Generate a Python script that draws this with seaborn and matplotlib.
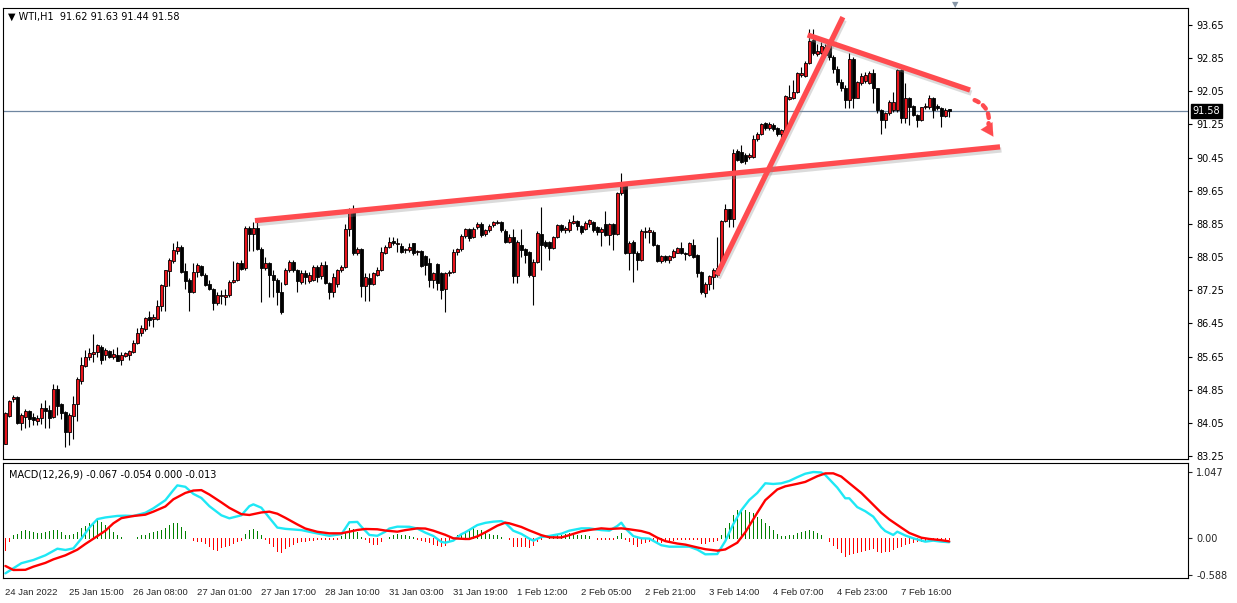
import numpy as np
import pandas as pd
import matplotlib
matplotlib.use('Agg')
import matplotlib.pyplot as plt
import matplotlib.patheffects as pe
import seaborn as sns

# ── WTI H1 candles ─────────────────────────────────────────────────
opens = [
    83.55, 84.21, 84.62, 84.67, 84.05, 84.20, 84.33, 84.20, 84.10, 84.17,
    84.42, 84.36, 84.20, 84.88, 84.50, 84.31, 83.84, 84.22, 84.50, 85.07,
    85.43, 85.63, 85.71, 85.75, 85.87, 85.69, 85.78, 85.65, 85.70, 85.56,
    85.66, 85.70, 85.77, 85.99, 86.22, 86.32, 86.60, 86.55, 86.55, 86.88,
    87.36, 87.72, 87.96, 88.20, 88.30, 87.72, 87.50, 87.20, 87.68, 87.83,
    87.62, 87.40, 87.28, 86.95, 87.11, 87.09, 87.13, 87.44, 87.51, 87.91,
    87.78, 88.76, 88.62, 88.76, 88.24, 87.79, 87.91, 87.62, 87.51, 87.20,
    87.40, 87.75, 87.93, 87.74, 87.46, 87.67, 87.48, 87.51, 87.82, 87.59,
    87.86, 87.42, 87.20, 87.40, 87.74, 87.80, 88.72, 89.19, 88.16, 88.24,
    87.35, 87.54, 87.40, 87.62, 87.74, 88.16, 88.30, 88.45, 88.36, 88.32,
    88.22, 88.22, 88.38, 88.18, 88.20, 88.08, 87.90, 87.51, 87.88, 87.66,
    87.27, 87.66, 87.70, 88.18, 88.24, 88.56, 88.72, 88.54, 88.77, 88.86,
    88.60, 88.70, 88.82, 88.87, 88.89, 88.68, 88.42, 88.54, 87.59, 88.34,
    88.24, 88.18, 87.59, 87.94, 88.62, 88.42, 88.42, 88.28, 88.54, 88.82,
    88.70, 88.70, 88.88, 88.93, 88.80, 88.74, 88.86, 88.90, 88.78, 88.66,
    88.86, 88.58, 88.85, 88.61, 89.60, 89.81, 88.14, 88.42, 88.16, 87.99,
    88.66, 88.66, 88.66, 88.34, 87.96, 88.08, 87.98, 88.06, 88.16, 88.28,
    88.16, 88.10, 88.34, 88.10, 87.70, 87.19, 87.41, 87.58, 87.62, 87.94,
    88.93, 89.20, 88.98, 90.62, 90.59, 90.51, 90.47, 90.47, 90.89, 91.03,
    91.29, 91.16, 91.24, 91.16, 91.02, 91.12, 91.86, 91.88, 92.04, 92.44,
    92.42, 92.74, 93.28, 92.96, 92.98, 93.12, 93.20, 92.88, 92.60, 92.28,
    92.12, 91.84, 92.84, 91.90, 92.24, 92.30, 92.26, 92.50, 92.12, 91.60,
    91.36, 91.52, 91.60, 91.60, 92.56, 91.40, 91.88, 91.70, 91.48, 91.37,
    91.66, 91.66, 91.90, 91.70, 91.64, 91.45, 91.62]
highs = [
    84.31, 84.60, 84.72, 84.70, 84.30, 84.38, 84.36, 84.30, 84.24, 84.52,
    84.60, 84.48, 85.00, 84.96, 84.52, 84.34, 84.28, 84.70, 85.15, 85.63,
    85.82, 85.85, 86.19, 85.95, 85.93, 85.85, 85.80, 85.84, 85.89, 85.76,
    85.77, 85.82, 86.05, 86.35, 86.41, 86.61, 86.76, 86.69, 87.01, 87.39,
    87.75, 88.04, 88.40, 88.44, 88.34, 87.90, 87.54, 87.90, 87.92, 87.86,
    87.66, 87.50, 87.30, 87.21, 87.25, 87.28, 87.50, 87.96, 87.94, 87.98,
    88.80, 88.80, 88.90, 88.96, 88.30, 88.06, 87.94, 87.74, 87.54, 87.46,
    87.78, 87.97, 87.98, 87.76, 87.74, 87.74, 87.68, 87.86, 87.85, 87.94,
    87.96, 87.45, 87.67, 87.77, 87.85, 88.86, 89.23, 89.30, 88.30, 88.26,
    87.67, 87.67, 87.70, 87.80, 88.30, 88.34, 88.54, 88.54, 88.50, 88.40,
    88.28, 88.38, 88.40, 88.22, 88.22, 88.10, 88.02, 87.70, 87.92, 87.70,
    87.70, 87.75, 88.24, 88.28, 88.60, 88.76, 88.76, 88.78, 88.90, 88.90,
    88.74, 88.84, 88.92, 88.95, 88.92, 88.72, 88.60, 88.72, 88.46, 88.74,
    88.28, 88.20, 88.00, 88.68, 89.27, 88.46, 88.44, 88.56, 88.85, 88.86,
    88.80, 88.96, 89.06, 88.95, 88.82, 88.92, 88.98, 88.92, 88.80, 88.78,
    89.17, 88.88, 88.88, 89.62, 90.09, 89.84, 88.44, 88.46, 88.20, 88.72,
    88.78, 88.78, 88.70, 88.36, 88.10, 88.10, 88.10, 88.24, 88.30, 88.42,
    88.18, 88.42, 88.48, 88.12, 87.72, 87.44, 87.62, 87.78, 88.53, 88.95,
    89.33, 89.22, 90.67, 90.66, 90.75, 90.55, 90.56, 90.99, 91.06, 91.28,
    91.32, 91.30, 91.28, 91.18, 91.14, 91.96, 92.20, 92.32, 92.52, 92.64,
    92.78, 93.55, 93.55, 93.20, 93.24, 93.20, 93.30, 92.92, 92.66, 92.34,
    92.20, 92.97, 92.88, 92.30, 92.48, 92.52, 92.55, 92.60, 92.14, 91.62,
    91.55, 91.84, 92.04, 92.60, 92.60, 92.24, 91.92, 91.72, 91.50, 91.68,
    91.76, 91.96, 91.92, 91.74, 91.66, 91.64, 91.63]
lows = [
    83.53, 84.19, 84.56, 84.02, 83.89, 83.92, 83.96, 83.99, 84.00, 84.02,
    83.92, 83.92, 84.16, 84.24, 84.14, 83.46, 83.52, 83.66, 84.10, 85.00,
    85.40, 85.58, 85.53, 85.64, 85.47, 85.58, 85.61, 85.60, 85.54, 85.44,
    85.64, 85.56, 85.74, 85.95, 86.14, 86.27, 86.39, 86.37, 86.53, 86.76,
    86.76, 87.35, 87.90, 88.12, 87.66, 87.28, 86.76, 87.18, 87.58, 87.59,
    87.35, 87.25, 86.77, 86.89, 86.93, 86.89, 87.09, 87.42, 87.48, 87.74,
    87.74, 88.20, 88.20, 88.22, 86.97, 87.74, 87.08, 87.08, 86.90, 86.68,
    87.38, 87.70, 87.70, 87.21, 87.40, 87.40, 87.43, 87.48, 87.45, 87.53,
    87.40, 87.05, 87.09, 87.33, 87.70, 87.78, 88.55, 88.10, 88.10, 87.09,
    87.00, 86.99, 87.38, 87.60, 87.72, 88.12, 88.26, 88.34, 88.18, 88.14,
    88.16, 88.18, 88.10, 88.10, 87.80, 87.62, 87.33, 87.30, 87.26, 87.05,
    86.73, 87.60, 87.66, 88.10, 88.20, 88.52, 88.44, 88.50, 88.74, 88.54,
    88.56, 88.66, 88.78, 88.84, 88.66, 88.38, 88.38, 87.42, 87.42, 88.06,
    87.90, 87.58, 86.89, 87.90, 87.74, 88.28, 87.98, 88.24, 88.50, 88.66,
    88.64, 88.66, 88.84, 88.70, 88.62, 88.70, 88.78, 88.66, 88.58, 88.32,
    88.56, 88.34, 88.22, 88.58, 89.56, 88.12, 87.74, 87.46, 87.74, 87.96,
    88.50, 88.40, 88.31, 87.94, 87.92, 87.94, 87.91, 88.04, 88.14, 88.12,
    87.98, 88.08, 88.04, 87.56, 87.17, 87.08, 87.25, 87.29, 87.58, 87.90,
    88.90, 88.78, 88.78, 90.36, 90.31, 90.30, 90.42, 90.44, 90.86, 91.00,
    91.12, 91.12, 91.10, 90.98, 90.90, 90.99, 91.84, 91.86, 92.00, 92.40,
    92.40, 92.70, 92.92, 92.90, 92.94, 92.88, 92.80, 92.50, 92.20, 92.06,
    91.64, 91.64, 91.64, 91.88, 92.20, 92.24, 92.22, 91.76, 91.52, 91.03,
    91.16, 91.48, 91.56, 91.56, 91.28, 91.28, 91.24, 91.46, 91.18, 91.34,
    91.62, 91.62, 91.40, 91.60, 91.18, 91.42, 91.44]
closes = [
    84.29, 84.57, 84.67, 84.05, 84.24, 84.33, 84.14, 84.12, 84.18, 84.42,
    84.34, 84.18, 84.86, 84.46, 84.29, 83.82, 84.24, 84.50, 85.10, 85.44,
    85.63, 85.73, 85.77, 85.92, 85.58, 85.80, 85.65, 85.71, 85.55, 85.68,
    85.73, 85.78, 85.99, 86.23, 86.34, 86.59, 86.53, 86.60, 86.87, 87.38,
    87.74, 87.98, 88.22, 88.30, 87.70, 87.47, 87.21, 87.68, 87.86, 87.62,
    87.38, 87.28, 86.95, 87.13, 87.13, 87.13, 87.44, 87.51, 87.91, 87.76,
    88.76, 88.62, 88.76, 88.24, 87.79, 87.91, 87.62, 87.51, 87.20, 86.72,
    87.73, 87.93, 87.74, 87.48, 87.67, 87.56, 87.62, 87.82, 87.58, 87.86,
    87.42, 87.20, 87.56, 87.73, 87.80, 88.72, 89.19, 88.16, 88.24, 87.35,
    87.56, 87.40, 87.67, 87.74, 88.18, 88.30, 88.42, 88.40, 88.40, 88.18,
    88.22, 88.30, 88.14, 88.19, 87.83, 87.86, 87.51, 87.66, 87.42, 87.26,
    87.66, 87.70, 88.18, 88.24, 88.56, 88.72, 88.50, 88.72, 88.86, 88.58,
    88.70, 88.80, 88.89, 88.90, 88.70, 88.42, 88.54, 87.59, 88.42, 88.22,
    88.10, 87.62, 87.94, 88.64, 88.34, 88.32, 88.28, 88.54, 88.82, 88.70,
    88.76, 88.90, 88.93, 88.80, 88.66, 88.88, 88.94, 88.70, 88.66, 88.74,
    88.58, 88.85, 88.61, 89.60, 89.81, 88.14, 88.40, 88.14, 87.99, 88.69,
    88.69, 88.70, 88.34, 87.96, 88.08, 87.98, 88.08, 88.20, 88.26, 88.14,
    88.13, 88.40, 88.06, 87.67, 87.21, 87.41, 87.59, 87.75, 87.78, 88.93,
    89.20, 88.98, 90.57, 90.40, 90.35, 90.37, 90.51, 90.91, 91.03, 91.26,
    91.16, 91.26, 91.13, 91.03, 91.12, 91.94, 91.92, 92.04, 92.48, 92.50,
    92.74, 93.27, 92.98, 93.03, 93.14, 92.92, 92.88, 92.60, 92.28, 92.12,
    91.84, 92.82, 91.88, 92.28, 92.42, 92.44, 92.48, 92.12, 91.60, 91.36,
    91.52, 91.80, 91.80, 92.56, 91.40, 91.88, 91.68, 91.48, 91.37, 91.66,
    91.70, 91.88, 91.60, 91.64, 91.45, 91.61, 91.58]

# ── MACD(12,26,9) ──────────────────────────────────────────────────
macd_bar = [0, 4, 7, 10, 13, 15, 17, 19, 21, 23, 25, 28, 30, 32, 35, 37, 40, 42, 43, 45,
            47, 49, 51, 54, 56, 59, 61, 62, 64, 66, 68, 70, 74, 77, 81, 84, 85, 86, 88, 89,
            91, 93, 95, 96, 98, 101, 103, 105, 107, 109, 110, 112, 114, 115, 118, 120, 122, 124, 125, 127,
            129, 131, 132, 134, 136, 139, 141, 144, 146, 149, 151, 153, 154, 155, 157, 159, 161, 164, 166, 169,
            171, 173, 175, 178, 180, 182, 184, 186, 188, 190, 192, 194, 196, 198, 200, 202, 204, 205, 208, 210,
            211, 213, 215, 217, 219, 220, 222, 223, 225, 227, 230, 232, 234, 236]
macd_val = [-0.561, -0.40, -0.349, -0.275, -0.170, -0.190, -0.165, -0.010, 0.165, 0.300,
            0.326, 0.350, 0.354, 0.349, 0.40, 0.471, 0.60, 0.76, 0.835, 0.812,
            0.70, 0.635, 0.505, 0.36, 0.312, 0.36, 0.505, 0.534, 0.48, 0.32,
            0.165, 0.145, 0.125, 0.085, 0.035, 0.06, 0.153, 0.249, 0.255, 0.180,
            0.048, 0.035, 0.10, 0.150, 0.180, 0.178, 0.150, 0.085, 0.032, -0.062,
            -0.074, -0.042, 0.060, 0.090, 0.205, 0.240, 0.259, 0.268, 0.240, 0.115,
            0.065, -0.01, -0.042, 0.015, 0.032, 0.068, 0.116, 0.153, 0.153, 0.125,
            0.116, 0.190, 0.243, 0.153, 0.030, -0.005, -0.010, -0.115, -0.138, -0.138,
            -0.138, -0.185, -0.259, -0.255, -0.05, 0.22, 0.44, 0.603, 0.715, 0.868,
            0.857, 0.868, 0.905, 0.965, 1.020, 1.047, 1.040, 1.000, 0.800, 0.630,
            0.630, 0.490, 0.425, 0.339, 0.170, 0.110, 0.048, 0.100, 0.040, -0.005,
            -0.058, -0.042, -0.058, -0.067]
signal_bar = [0, 2, 5, 7, 10, 12, 15, 18, 20, 23, 25, 27, 29, 32, 35, 37, 40, 42, 45, 47,
              49, 51, 54, 56, 59, 61, 64, 66, 68, 70, 73, 75, 78, 81, 84, 86, 88, 90, 93, 95,
              98, 100, 103, 105, 107, 110, 112, 115, 116, 118, 120, 123, 125, 126, 129, 131, 134, 136, 139, 141,
              144, 146, 149, 151, 154, 156, 159, 161, 163, 165, 168, 170, 173, 175, 178, 180, 183, 185, 188, 190,
              193, 195, 198, 200, 203, 205, 207, 209, 211, 214, 216, 219, 221, 224, 226, 229, 231, 234, 236]
signal_val = [-0.444, -0.508, -0.505, -0.455, -0.395, -0.339, -0.275, -0.185, -0.095, 0.030,
              0.115, 0.233, 0.315, 0.349, 0.370, 0.418, 0.50, 0.614, 0.715, 0.753,
              0.760, 0.690, 0.565, 0.478, 0.378, 0.365, 0.405, 0.418, 0.385, 0.320,
              0.215, 0.150, 0.098, 0.074, 0.074, 0.100, 0.127, 0.143, 0.138, 0.118,
              0.100, 0.125, 0.153, 0.150, 0.116, 0.050, -0.005, -0.016, -0.016, 0.025,
              0.090, 0.195, 0.243, 0.233, 0.175, 0.120, 0.045, 0.011, 0.008, 0.045,
              0.105, 0.127, 0.153, 0.143, 0.153, 0.138, 0.110, 0.075, 0.005, -0.050,
              -0.088, -0.105, -0.150, -0.178, -0.201, -0.182, -0.075, 0.090, 0.400, 0.600,
              0.770, 0.820, 0.860, 0.890, 0.980, 1.025, 1.026, 0.975, 0.870, 0.715,
              0.590, 0.400, 0.295, 0.165, 0.080, 0.005, -0.015, -0.035, -0.054]
hist = [
    -0.19, -0.04, 0.04, 0.07, 0.11, 0.12, 0.11, 0.09, 0.08, 0.08,
    0.09, 0.11, 0.12, 0.12, 0.09, 0.05, 0.04, 0.07, 0.09, 0.16,
    0.19, 0.23, 0.26, 0.28, 0.25, 0.20, 0.16, 0.09, 0.05, 0.02,
    0.005, 0.0, 0.0, 0.02, 0.04, 0.05, 0.08, 0.09, 0.11, 0.13,
    0.16, 0.20, 0.23, 0.24, 0.17, 0.11, 0.0, -0.03, -0.04, -0.05,
    -0.08, -0.12, -0.17, -0.19, -0.14, -0.12, -0.11, -0.08, -0.05, -0.03,
    0.07, 0.13, 0.14, 0.11, 0.04, -0.01, -0.08, -0.13, -0.21, -0.23,
    -0.16, -0.12, -0.09, -0.07, -0.05, -0.04, -0.03, -0.03, -0.02, -0.02,
    -0.02, -0.02, -0.02, -0.01, 0.03, 0.08, 0.16, 0.14, 0.09, 0.02,
    -0.02, -0.07, -0.09, -0.10, -0.05, 0.0, 0.02, 0.04, 0.07, 0.05,
    0.04, 0.03, 0.01, -0.01, -0.03, -0.04, -0.07, -0.09, -0.11, -0.12,
    -0.11, -0.05, 0.0, 0.04, 0.08, 0.11, 0.13, 0.16, 0.13, 0.12,
    0.09, 0.07, 0.05, 0.04, 0.02, 0.0, -0.02, -0.12, -0.12, -0.12,
    -0.13, -0.14, -0.11, -0.05, -0.01, 0.0, 0.02, 0.03, 0.04, 0.05,
    0.07, 0.08, 0.05, 0.05, 0.05, 0.04, 0.03, 0.0, -0.01, -0.01,
    -0.01, -0.01, -0.01, 0.03, 0.08, -0.02, -0.05, -0.09, -0.12, -0.08,
    -0.07, -0.05, -0.05, -0.07, -0.07, -0.05, -0.05, -0.03, -0.02, -0.01,
    -0.01, -0.01, -0.01, -0.01, -0.08, -0.08, -0.05, -0.04, -0.03, 0.05,
    0.16, 0.24, 0.37, 0.45, 0.46, 0.45, 0.42, 0.40, 0.34, 0.30,
    0.24, 0.19, 0.13, 0.07, 0.03, 0.03, 0.04, 0.05, 0.08, 0.09,
    0.11, 0.12, 0.11, 0.08, 0.04, 0.0, -0.04, -0.11, -0.16, -0.23,
    -0.28, -0.26, -0.24, -0.23, -0.21, -0.19, -0.18, -0.16, -0.21, -0.23,
    -0.21, -0.20, -0.18, -0.14, -0.12, -0.09, -0.08, -0.07, -0.05, -0.04,
    -0.03, -0.02, -0.01, -0.01, -0.01, -0.01, -0.013]

date_labels = ['24 Jan 2022', '25 Jan 15:00', '26 Jan 08:00', '27 Jan 01:00', '27 Jan 17:00',
               '28 Jan 10:00', '31 Jan 03:00', '31 Jan 19:00', '1 Feb 12:00', '2 Feb 05:00',
               '2 Feb 21:00', '3 Feb 14:00', '4 Feb 07:00', '4 Feb 23:00', '7 Feb 16:00']
price_ticks = [83.25, 84.05, 84.85, 85.65, 86.45, 87.25, 88.05, 88.85,
               89.65, 90.45, 91.25, 92.05, 92.85, 93.65]
last_price = 91.58

# hand-drawn trend lines: (bar, price) end points
support_line = [(62.4, 88.93), (248.7, 90.71)]
impulse_line = [(177.9, 87.62), (209.4, 93.84)]
upper_line = [(200.6, 93.41), (241.2, 92.08)]

# ── figure layout in screen pixels ─────────────────────────────────
W, H = 1237, 603
sns.set_style('white')
plt.rcParams['font.family'] = ['DejaVu Sans']
plt.rcParams['axes.linewidth'] = 0.8

fig = plt.figure(figsize=(W / 100, H / 100), dpi=100)
fig.patch.set_facecolor('white')


def px_box(x0, y0, x1, y1):
    return [x0 / W, 1 - y1 / H, (x1 - x0) / W, (y1 - y0) / H]


ax = fig.add_axes(px_box(3, 8, 1188, 459))
axm = fig.add_axes(px_box(3, 463, 1188, 578), sharex=ax)

o = np.array(opens)
c = np.array(closes)
hi = np.maximum(np.array(highs), np.maximum(o, c))
lo = np.minimum(np.array(lows), np.minimum(o, c))
idx = np.arange(len(c))

# ── candles ────────────────────────────────────────────────────────
ax.vlines(idx, lo, hi, color='black', lw=0.8, zorder=2)
body_lo = np.minimum(o, c)
body_h = np.maximum(np.abs(c - o), 0.015)
body_col = np.where(c >= o, '#e8141c', 'black')
ax.bar(idx, body_h, bottom=body_lo, width=0.72, color=body_col,
       edgecolor='black', linewidth=0.6, zorder=3)

ax.axhline(last_price, color='#6f86a0', lw=0.9, zorder=1)

# trend lines with soft drop shadow
shadow = [pe.SimpleLineShadow(offset=(1.0, -2.2), shadow_color='#8a8a8a', alpha=0.3),
          pe.Normal()]
for seg in (support_line, impulse_line, upper_line):
    xs, ys = zip(*seg)
    ax.plot(xs, ys, color='#ff4b4f', lw=3.8, solid_capstyle='butt',
            zorder=5, path_effects=shadow)

# dotted curved arrow
ax.annotate('', xy=(245.7, 91.19), xytext=(241.7, 91.86),
            arrowprops=dict(arrowstyle='-', color='#ff4b4f', lw=3.2,
                            linestyle=(0, (1.0, 1.2)),
                            connectionstyle='arc3,rad=-0.45'), zorder=5)
ax.annotate('', xy=(247.4, 90.90), xytext=(245.3, 91.22),
            arrowprops=dict(arrowstyle='-|>,head_length=0.9,head_width=0.5',
                            color='#ff4b4f', lw=0.1), zorder=5)

ax.set_xlim(-0.6, 295.7)
ax.set_ylim(83.18, 94.06)
ax.yaxis.tick_right()
ax.set_yticks(price_ticks)
ax.set_yticklabels([f'{p:.2f}' for p in price_ticks])
ax.tick_params(axis='y', direction='out', length=3, width=0.8, labelsize=7, pad=3, colors='black')
ax.tick_params(axis='x', bottom=False, labelbottom=False)
for s in ax.spines.values():
    s.set_color('black')

ax.text(1.004, last_price, f'{last_price:.2f}', transform=ax.get_yaxis_transform(),
        ha='left', va='center', color='white', fontsize=7, zorder=10,
        bbox=dict(boxstyle='square,pad=0.18', fc='black', ec='black'), clip_on=False)
ax.text(0.004, 0.992, '\u25BC WTI,H1  91.62 91.63 91.44 91.58', transform=ax.transAxes,
        ha='left', va='top', fontsize=7, color='black')

# ── MACD panel ─────────────────────────────────────────────────────
h = np.array(hist)
hcol = np.where(h > 0, '#008000', '#ff0000')
axm.vlines(idx, 0, h, colors=hcol, lw=0.72, zorder=2, antialiased=False)

macd_df = pd.DataFrame({'bar': macd_bar, 'value': macd_val})
sig_df = pd.DataFrame({'bar': signal_bar, 'value': signal_val})
sns.lineplot(data=macd_df, x='bar', y='value', ax=axm, color='#1ee8f5', lw=1.7, zorder=3)
sns.lineplot(data=sig_df, x='bar', y='value', ax=axm, color='#ff0000', lw=1.7, zorder=4)

axm.set_ylim(-0.635, 1.19)
axm.set_xlabel('')
axm.set_ylabel('')
axm.yaxis.tick_right()
axm.set_yticks([1.047, 0.0, -0.588])
axm.set_yticklabels(['1.047', '0.00', '-0.588'])
axm.tick_params(axis='y', direction='out', length=3, width=0.8, labelsize=7, pad=3)
axm.set_xticks(idx[::16][:len(date_labels)])
axm.set_xticklabels(date_labels, ha='left', fontsize=6.8, family='Liberation Sans')
axm.tick_params(axis='x', direction='out', length=4, width=0.8, pad=3)
for s in axm.spines.values():
    s.set_color('black')
axm.text(0.005, 0.94, 'MACD(12,26,9) -0.067 -0.054 0.000 -0.013', transform=axm.transAxes,
         ha='left', va='top', fontsize=7, color='black')

# chart-shift marker at the top
fig.text(955 / W, 1 - 5 / H, '\u25BC', ha='center', va='center', fontsize=6, color='#8796a6')

fig.savefig('out.png', dpi=100)
